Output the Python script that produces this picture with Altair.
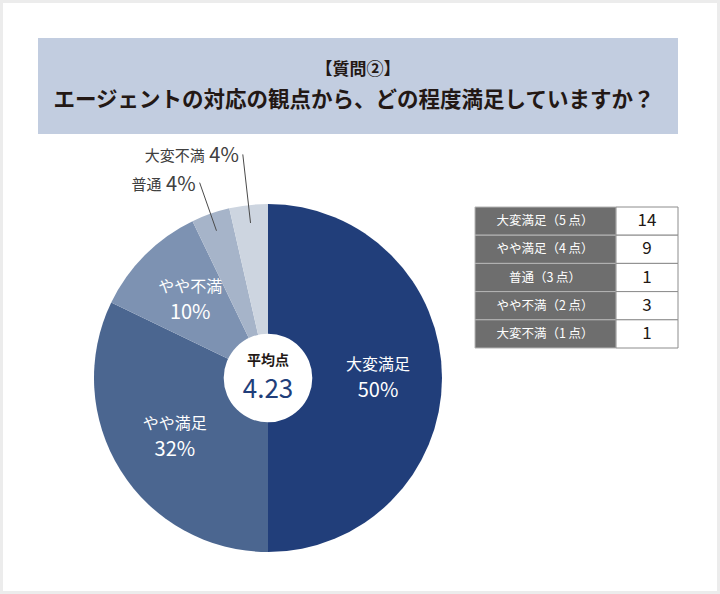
import math
import altair as alt
import pandas as pd

# ---------------- data ----------------
categories = ["大変満足", "やや満足", "やや不満", "普通", "大変不満"]
counts = [14, 9, 3, 1, 1]
percent_labels = ["50%", "32%", "10%", "4%", "4%"]
slice_colors = ["#213e7a", "#4b6690", "#7d92b2", "#a6b4c9", "#cdd5e0"]

table_labels = ["大変満足（5 点）", "やや満足（4 点）", "普通（3 点）", "やや不満（2 点）", "大変不満（1 点）"]
table_counts = [14, 9, 1, 3, 1]

title_line1 = "【質問②】"
title_line2 = "エージェントの対応の観点から、どの程度満足していますか？"
avg_label = "平均点"
avg_value = "4.23"

# ---------------- layout constants ----------------
FONT = "Noto Sans CJK JP"
CX, CY, R = 268, 378, 174
W, H = 720, 594

pie_df = pd.DataFrame({
    "category": categories,
    "count": counts,
    "pct": percent_labels,
    "order": list(range(len(categories))),
})
table_df = pd.DataFrame({
    "label": table_labels,
    "n": [str(v) for v in table_counts],
    "row": list(range(len(table_labels))),
})
one = pd.DataFrame({"k": [0]})

# ---------------- frame & title ----------------
frame = alt.Chart(one).mark_rect(fill="#ffffff", stroke="#ececec", strokeWidth=3).encode(
    x=alt.value(1.5), x2=alt.value(W - 1.5), y=alt.value(1.5), y2=alt.value(H - 1.5))

title_box = alt.Chart(one).mark_rect(fill="#c2cde0").encode(
    x=alt.value(38), x2=alt.value(678), y=alt.value(38), y2=alt.value(134))

t1 = alt.Chart(one).mark_text(text=title_line1, font=FONT, fontSize=17, fontWeight="bold",
                              color="#231815", align="center", baseline="middle").encode(
    x=alt.value(358), y=alt.value(70))
t2 = alt.Chart(one).mark_text(text=title_line2, font=FONT, fontSize=21.5, fontWeight="bold",
                              color="#231815", align="center", baseline="middle").encode(
    x=alt.value(354), y=alt.value(101))

# ---------------- pie ----------------
pie = alt.Chart(pie_df).mark_arc(outerRadius=R, strokeWidth=0).encode(
    theta=alt.Theta("count:Q", stack=True),
    order=alt.Order("order:Q"),
    color=alt.Color("category:N", scale=alt.Scale(domain=categories, range=slice_colors), legend=None),
    x=alt.value(CX), y=alt.value(CY),
)

hole = alt.Chart(one).mark_circle(size=math.pi * 50 ** 2, color="#ffffff", opacity=1).encode(
    x=alt.value(CX), y=alt.value(CY))
avg_t = alt.Chart(one).mark_text(text=avg_label, font=FONT, fontSize=14, fontWeight="bold",
                                 color="#231815", baseline="middle").encode(
    x=alt.value(CX), y=alt.value(CY - 17))
avg_v = alt.Chart(one).mark_text(text=avg_value, font=FONT, fontSize=26,
                                 color="#213e7a", baseline="middle").encode(
    x=alt.value(CX), y=alt.value(CY + 12))

base = (alt.Chart(pie_df)
        .transform_joinaggregate(total="sum(count)")
        .transform_window(cum="sum(count)", sort=[alt.SortField("order")], frame=[None, 0])
        .transform_calculate(mid="(datum.cum - datum.count/2) / datum.total * 2 * PI",
                             share="datum.count / datum.total"))

inner = (base.transform_filter("datum.share >= 0.05")
         .transform_calculate(lx=f"{CX} + 110 * sin(datum.mid)",
                              ly=f"{CY} - 110 * cos(datum.mid)"))
in_name = inner.mark_text(font=FONT, fontSize=16, color="#ffffff", baseline="middle", dy=-13).encode(
    x=alt.X("lx:Q", scale=None), y=alt.Y("ly:Q", scale=None), text="category:N")
in_pct = inner.mark_text(font=FONT, fontSize=20, color="#ffffff", baseline="middle", dy=13).encode(
    x=alt.X("lx:Q", scale=None), y=alt.Y("ly:Q", scale=None), text="pct:N")

outer = (base.transform_filter("datum.share < 0.05")
         .transform_window(k="row_number()", sort=[alt.SortField("order")])
         .transform_calculate(rout="189 + 18 * datum.k")
         .transform_calculate(x1=f"{CX} + 156 * sin(datum.mid)",
                              y1=f"{CY} - 156 * cos(datum.mid)",
                              x2=f"{CX} + datum.rout * sin(datum.mid)",
                              y2=f"{CY} - datum.rout * cos(datum.mid)"))
leader = outer.mark_rule(color="#4a4a4a", strokeWidth=1).encode(
    x=alt.X("x1:Q", scale=None), y=alt.Y("y1:Q", scale=None),
    x2="x2:Q", y2="y2:Q")
out_pct = outer.mark_text(font=FONT, fontSize=20, color="#404040", align="right",
                          baseline="middle", dx=-4, dy=2).encode(
    x=alt.X("x2:Q", scale=None), y=alt.Y("y2:Q", scale=None), text="pct:N")
out_name = outer.mark_text(font=FONT, fontSize=15, color="#404040", align="right",
                           baseline="middle", dx=-38, dy=2).encode(
    x=alt.X("x2:Q", scale=None), y=alt.Y("y2:Q", scale=None), text="category:N")

# ---------------- table ----------------
tbl = alt.Chart(table_df).transform_calculate(
    ty0="207 + datum.row * 28.2", ty1="207 + (datum.row + 1) * 28.2",
    tym="207 + (datum.row + 0.5) * 28.2")
left_cells = tbl.mark_rect(fill="#6e6e6e", stroke="#b4b4b4", strokeWidth=1).encode(
    x=alt.value(475), x2=alt.value(616),
    y=alt.Y("ty0:Q", scale=None), y2="ty1:Q")
right_cells = tbl.mark_rect(fill="#ffffff", stroke="#8c8c8c", strokeWidth=1).encode(
    x=alt.value(616), x2=alt.value(678),
    y=alt.Y("ty0:Q", scale=None), y2="ty1:Q")
left_text = tbl.mark_text(font=FONT, fontSize=12.5, color="#ffffff", baseline="middle").encode(
    x=alt.value(545), y=alt.Y("tym:Q", scale=None), text="label:N")
right_text = tbl.mark_text(font=FONT, fontSize=17, color="#231815", baseline="middle").encode(
    x=alt.value(647), y=alt.Y("tym:Q", scale=None), text="n:N")

chart = alt.layer(
    frame, title_box, t1, t2,
    pie, hole, avg_t, avg_v,
    in_name, in_pct, leader, out_pct, out_name,
    left_cells, right_cells, left_text, right_text,
).properties(
    width=W, height=H, padding=0,
    autosize=alt.AutoSizeParams(type="none"),
    background="#ffffff",
).configure_view(stroke=None)

chart.save("out.html", embed_options={"renderer": "svg", "actions": False})
